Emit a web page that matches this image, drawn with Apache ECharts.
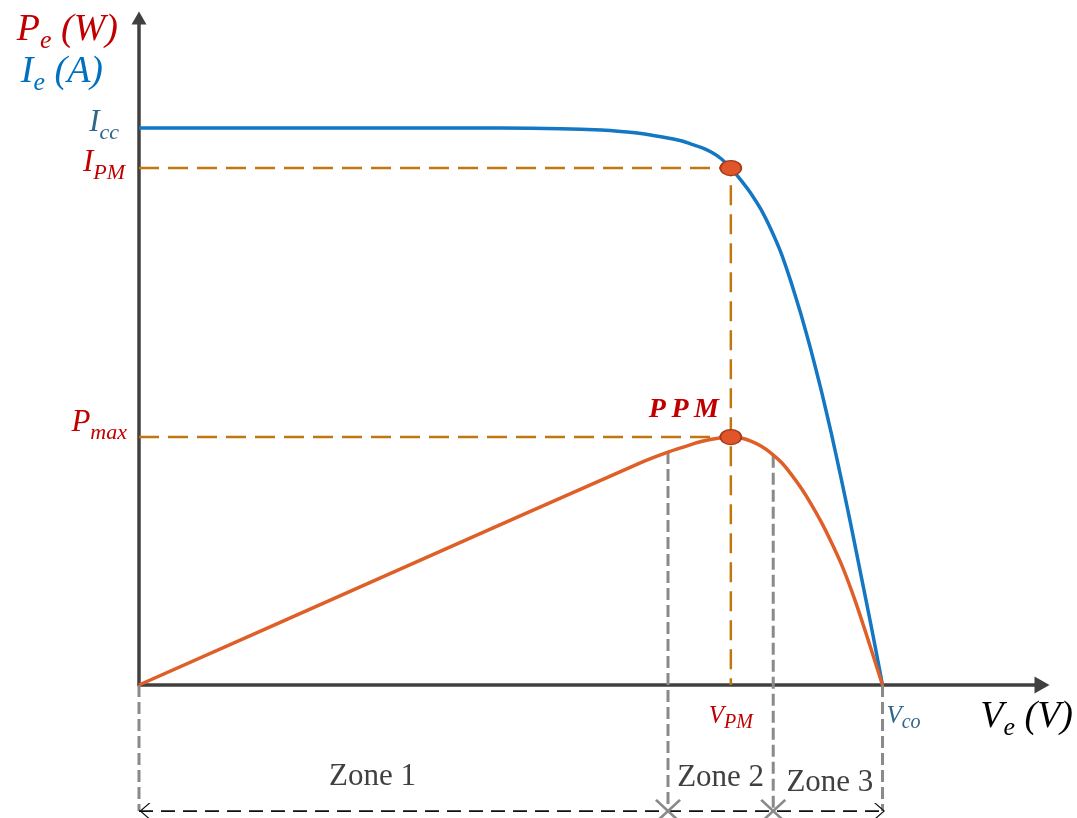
<!DOCTYPE html>
<html><head><meta charset="utf-8">
<script src="https://cdn.jsdelivr.net/npm/echarts@6/dist/echarts.min.js"></script>
<style>html,body{margin:0;padding:0;background:#fff}#c{width:1077px;height:818px}</style>
</head><body><div id="c"></div>
<script>
// ---- data ----
// I-V curve: voltage (V) and current (A)
const ivVoltage = [0, 9.73, 11.35, 12.43, 12.96, 13.50, 14.04, 14.58, 14.85, 15.12, 15.39, 15.66, 15.92, 16.19, 16.46, 16.73, 17.00, 17.27, 17.54, 17.81, 18.08, 18.35, 18.62, 18.89, 19.16, 19.43, 19.70, 20];
const ivCurrent = [8.35, 8.35, 8.34, 8.32, 8.30, 8.27, 8.22, 8.16, 8.11, 8.06, 7.99, 7.89, 7.75, 7.57, 7.37, 7.13, 6.83, 6.48, 6.04, 5.55, 5.01, 4.42, 3.78, 3.09, 2.37, 1.62, 0.87, 0];
// P-V curve: voltage (V) and power (W)
const pvVoltage = [0, 7.04, 13.50, 14.23, 14.85, 15.12, 15.53, 15.92, 16.19, 16.46, 16.73, 17.00, 17.27, 17.54, 17.81, 18.08, 18.35, 18.62, 18.89, 19.16, 19.43, 19.70, 20];
const pvPower = [0, 69.6, 133.4, 139.7, 144.2, 146.0, 147.8, 148.7, 148.1, 146.3, 143.3, 139.1, 133.7, 126.5, 118.1, 108.5, 97.8, 85.8, 72.6, 57.0, 39.6, 21.0, 0];
// characteristic values
const Icc = 8.35, IPM = 7.75, VPM = 15.92, Pmax = 148.7, Vco = 20;
// zones
const zoneBounds = [0, 14.23, 17.06, 20];
const zoneBoundPower = [0, 139.7, 137.5, 0];
const zoneNames = ['Zone 1', 'Zone 2', 'Zone 3'];
const zoneLevel = -75.6; // P-axis value of the zone arrow, below the V axis

// ---- styles ----
const serif = "'Liberation Serif','Times New Roman',serif";
const RED = '#C00000', BLUE = '#0070C0', TEAL = '#2F6689', GUIDE = '#C0770F', GRAY = '#8A8A8A';
const it = (size, color, o) => Object.assign({fontFamily: serif, fontStyle: 'italic', fontSize: size, color: color}, o || {});

const chevronR = 'path://M0,0L1.8,0L11,8L1.8,16L0,16L9.2,8Z';
const chevronL = 'path://M11,0L9.2,0L0,8L9.2,16L11,16L1.8,8Z';
const crossPath = 'path://M0,1.5L1.5,0L10,8.5L18.5,0L20,1.5L11.5,10L20,18.5L18.5,20L10,11.5L1.5,20L0,18.5L8.5,10Z';

const pairs = (xs, ys) => xs.map((x, i) => [x, ys[i]]);

const series = [];
// guides (orange dashed)
series.push({type: 'line', yAxisIndex: 0, data: [[0, IPM], [VPM, IPM], [VPM, 0]], symbol: 'none', silent: true, z: 2,
  lineStyle: {color: GUIDE, width: 2.5, type: [20, 9]}});
series.push({type: 'line', yAxisIndex: 1, data: [[0, Pmax], [VPM, Pmax]], symbol: 'none', silent: true, z: 2,
  lineStyle: {color: GUIDE, width: 2.5, type: [20, 9]}});
// gray zone boundaries
zoneBounds.forEach((b, i) => {
  series.push({type: 'line', yAxisIndex: 1, clip: false, data: [[b, zoneBoundPower[i]], [b, zoneLevel]], symbol: 'none', silent: true, z: 1,
    lineStyle: {color: GRAY, width: 3, type: [12, 5]}});
});
// curves
series.push({type: 'line', name: 'Ie', yAxisIndex: 0, data: pairs(ivVoltage, ivCurrent), smooth: 0.2, showSymbol: false, z: 3,
  lineStyle: {color: '#1377C4', width: 3.5}});
series.push({type: 'line', name: 'Pe', yAxisIndex: 1, data: pairs(pvVoltage, pvPower), smooth: 0.2, showSymbol: false, z: 3,
  lineStyle: {color: '#DE5F27', width: 3.5}});
// zone arrow line
series.push({type: 'line', yAxisIndex: 1, clip: false, data: [[zoneBounds[0], zoneLevel], [zoneBounds[zoneBounds.length - 1], zoneLevel]], symbol: 'none', silent: true, z: 2,
  lineStyle: {color: '#111', width: 1.8, type: [14, 8]}});
series.push({type: 'scatter', yAxisIndex: 1, clip: false, silent: true, z: 3, itemStyle: {color: '#111', opacity: 1},
  data: [{value: [zoneBounds[0], zoneLevel], symbol: chevronL, symbolSize: [11, 16], symbolOffset: [6, 0]},
         {value: [zoneBounds[zoneBounds.length - 1], zoneLevel], symbol: chevronR, symbolSize: [11, 16], symbolOffset: [-3, 0]}]});
// crosses at the inner zone limits
series.push({type: 'scatter', yAxisIndex: 1, clip: false, silent: true, z: 4, symbol: crossPath, symbolSize: [26, 24],
  itemStyle: {color: GRAY, opacity: 1}, data: zoneBounds.slice(1, -1).map(b => [b, zoneLevel])});
// zone labels
const zoneLabelAdj = [{dx: -31, dist: 18}, {dx: 0, dist: 17}, {dx: 2, dist: 12}];
series.push({type: 'scatter', yAxisIndex: 1, clip: false, silent: true, z: 4, symbolSize: 0, itemStyle: {opacity: 1},
  data: zoneNames.map((n, i) => ({
    value: [(zoneBounds[i] + zoneBounds[i + 1]) / 2, zoneLevel], name: n,
    label: {show: true, position: 'top', distance: zoneLabelAdj[i].dist, offset: [zoneLabelAdj[i].dx, 0], formatter: n,
      fontFamily: serif, fontSize: 31, lineHeight: 32, color: '#404040'}
  }))});
// operating points
const markerStyle = {color: '#E0552A', borderColor: '#A33A1A', borderWidth: 1.5, opacity: 1};
series.push({type: 'scatter', yAxisIndex: 0, z: 6, symbol: 'circle', symbolSize: [21, 15], itemStyle: markerStyle, data: [[VPM, IPM]]});
series.push({type: 'scatter', yAxisIndex: 1, z: 6, symbol: 'circle', symbolSize: [21, 15], itemStyle: markerStyle,
  data: [{value: [VPM, Pmax], label: {show: true, position: 'top', distance: 4, offset: [-47, 0], formatter: 'P\u2009P\u2009M',
    fontFamily: serif, fontStyle: 'italic', fontWeight: 'bold', fontSize: 28, lineHeight: 30, color: RED}}]});

const ySubRich = (color, padB) => ({
  m: it(31, color, {lineHeight: 34, padding: [0, 0, padB, 0]}),
  s: it(22, color, {lineHeight: 24, padding: [15, 0, padB - 5, 0]})
});
const hiddenY = (max, values, margin, fmt, rich) => ({
  type: 'value', min: 0, max: max, position: 'left',
  axisLine: {show: false}, axisTick: {show: false}, splitLine: {show: false},
  axisLabel: {customValues: values, margin: margin, formatter: fmt, rich: rich}
});

const option = {
  animation: false,
  backgroundColor: '#fff',
  grid: {left: 139, right: 35, top: 18, bottom: 133, outerBoundsMode: 'none'},
  xAxis: {
    type: 'value', min: 0, max: 24.29,
    axisLine: {show: true, symbol: ['none', 'triangle'], symbolSize: [17, 15], lineStyle: {color: '#404040', width: 3.5}},
    axisTick: {show: false}, splitLine: {show: false},
    axisLabel: {
      customValues: [VPM, Vco], margin: 18,
      formatter: v => Math.abs(v - VPM) < 1e-6 ? '{rm|V}{rs|PM}' : '{tm|V}{ts|co}',
      rich: {
        rm: it(25, RED, {lineHeight: 27}),
        rs: it(20, RED, {lineHeight: 22, padding: [12, 0, 0, 0]}),
        tm: it(25, TEAL, {lineHeight: 27, padding: [0, 0, 0, 42]}),
        ts: it(20, TEAL, {lineHeight: 22, padding: [12, 0, 0, 0]})
      }
    },
    name: '{vm|V}{vs|e}{vm| (V)}', nameLocation: 'end', nameGap: 31,
    nameTextStyle: {align: 'right', verticalAlign: 'top', padding: [14, 0, 0, 0],
      rich: {vm: it(38, '#000', {lineHeight: 42, padding: [0, 0, 6, 0]}), vs: it(26, '#000', {lineHeight: 28, padding: [18, 0, 2, 0]})}}
  },
  yAxis: [
    {
      type: 'value', min: 0, max: 10, position: 'left',
      axisLine: {show: true, onZero: false, symbol: ['none', 'triangle'], symbolSize: [15, 13], lineStyle: {color: '#404040', width: 3.5}},
      axisTick: {show: false}, splitLine: {show: false},
      axisLabel: {customValues: [IPM], margin: 14, formatter: () => '{m|I}{s|PM}', rich: ySubRich(RED, 10)},
      name: '{pm|P}{ps|e}{pm| (W)}\n{im|I}{is|e}{ie| (A)}', nameLocation: 'end', nameGap: 6,
      nameTextStyle: {align: 'right', verticalAlign: 'top', padding: [0, 21, 0, 0],
        rich: {
          pm: it(38, RED, {lineHeight: 42, padding: [0, 0, 6, 0]}),
          ps: it(26, RED, {lineHeight: 28, padding: [18, 0, 2, 0]}),
          im: it(38, BLUE, {lineHeight: 42, padding: [0, 0, 6, 0]}),
          is: it(26, BLUE, {lineHeight: 28, padding: [18, 0, 2, 0]}),
          ie: it(38, BLUE, {lineHeight: 42, padding: [0, 15, 6, 0]})
        }}
    },
    hiddenY(400, [Pmax], 12, () => '{m|P}{s|max}', ySubRich(RED, 28)),
    hiddenY(10, [Icc], 20, () => '{m|I}{s|cc}', ySubRich(TEAL, 10))
  ],
  series: series
};

const chart = echarts.init(document.getElementById('c'), null, {renderer: 'canvas'});
chart.setOption(option);
</script></body></html>
